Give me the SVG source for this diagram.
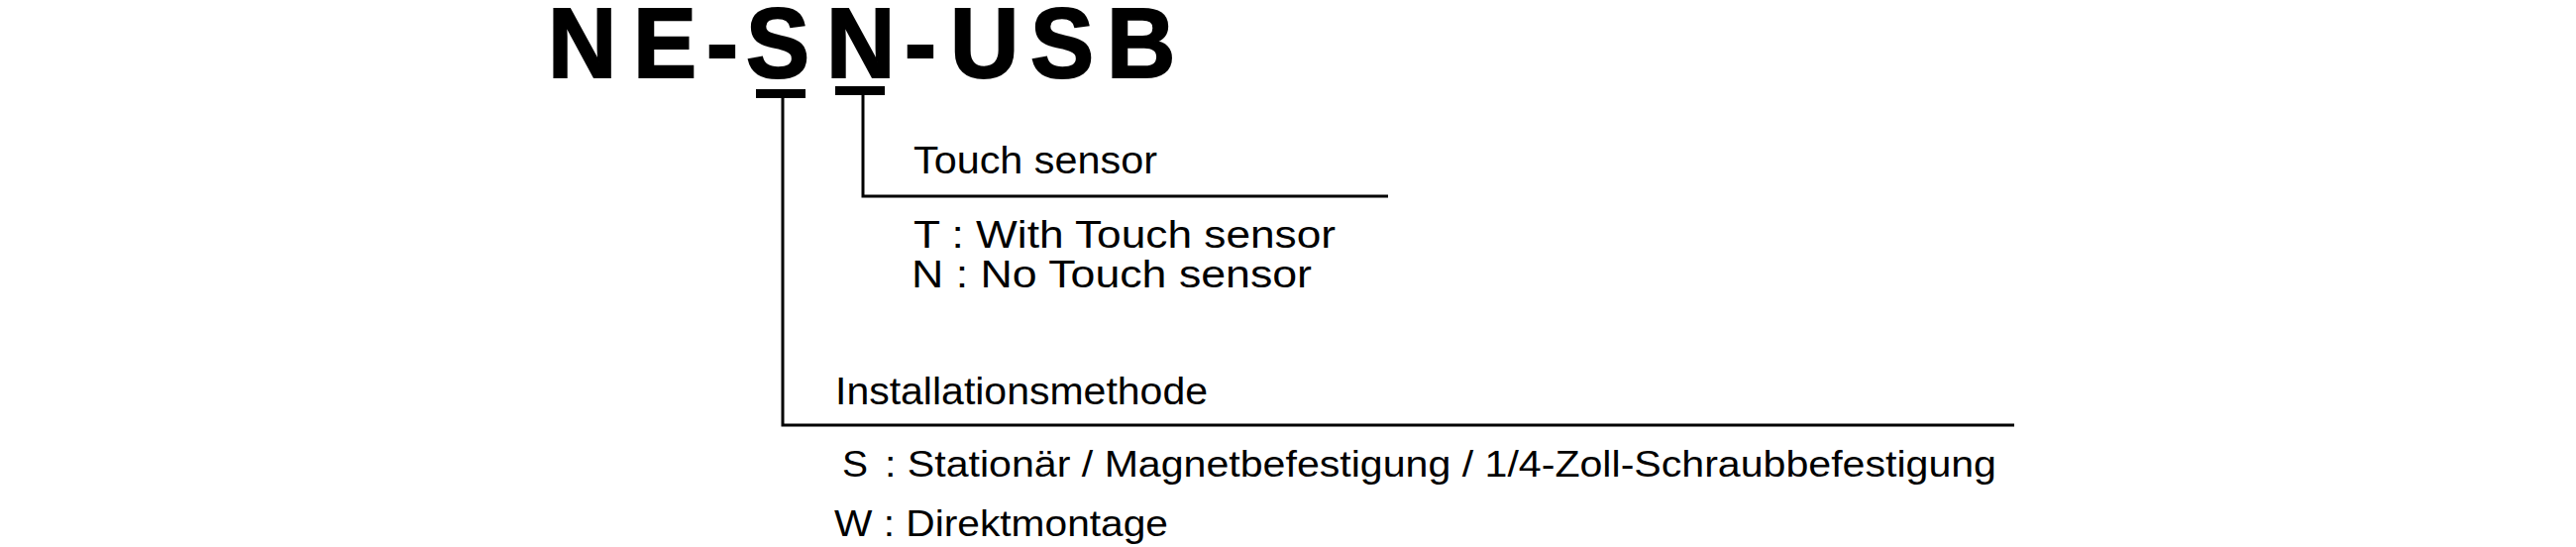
<svg xmlns="http://www.w3.org/2000/svg" width="2600" height="552" viewBox="0 0 2600 552">
<style>
.title{font-family:"Liberation Sans",Arial,sans-serif;font-weight:bold;font-size:96px;fill:#000;stroke:#000;stroke-width:2}
.lbl{font-family:"Liberation Sans",Arial,sans-serif;fill:#000}
.ln{stroke:#000;stroke-width:3;fill:none}
.bar{fill:#000}
</style>
<rect width="2600" height="552" fill="#fff"/>
<g id="title">
<text class="title" transform="scale(1,1.04)" x="553 639 713 753 834 913 959 1040 1117" y="75">NE-SN-USB</text>
</g>
<g id="connectors">
<rect class="bar" x="763" y="90" width="50" height="9"/>
<rect class="bar" x="843" y="87" width="50" height="9"/>
<polyline class="ln" points="790,97 790,429 2033,429"/>
<polyline class="ln" points="871,94 871,198 1401,198"/>
</g>
<g id="touch">
<text class="lbl" font-size="39" x="922" y="175" textLength="246" lengthAdjust="spacingAndGlyphs">Touch sensor</text>
<text class="lbl" font-size="38" x="922" y="250" textLength="426" lengthAdjust="spacingAndGlyphs">T : With Touch sensor</text>
<text class="lbl" font-size="38" x="920" y="290" textLength="404" lengthAdjust="spacingAndGlyphs">N : No Touch sensor</text>
</g>
<g id="install">
<text class="lbl" font-size="38" x="843" y="408" textLength="376" lengthAdjust="spacingAndGlyphs">Installationsmethode</text>
<text class="lbl" font-size="37" x="850" y="481" textLength="26" lengthAdjust="spacingAndGlyphs">S</text>
<text class="lbl" font-size="37" x="893" y="481" textLength="1122" lengthAdjust="spacingAndGlyphs">: Stationär / Magnetbefestigung / 1/4-Zoll-Schraubbefestigung</text>
<text class="lbl" font-size="37" x="842" y="541" textLength="337" lengthAdjust="spacingAndGlyphs">W : Direktmontage</text>
</g>
</svg>
